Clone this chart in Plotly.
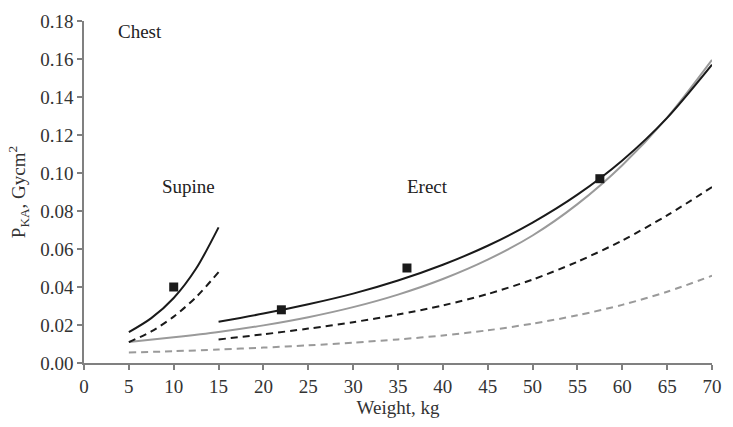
import plotly.graph_objects as go

# Supine (5-15 kg)
sup_x = [5, 7.5, 10, 12.5, 15]
sup_black_solid = [0.0162, 0.0236, 0.0342, 0.0497, 0.0714]
sup_black_dash = [0.0110, 0.0166, 0.0244, 0.0347, 0.0478]

# Erect (15-70 kg)
ere_x = [15, 20, 25, 30, 35, 40, 45, 50, 55, 60, 65, 70]
ere_black_solid = [0.0217, 0.0260, 0.0309, 0.0365, 0.0434, 0.0517, 0.0617, 0.0739, 0.0886, 0.1066, 0.1290, 0.1570]
ere_black_dash = [0.0124, 0.0151, 0.0181, 0.0215, 0.0255, 0.0303, 0.0363, 0.0439, 0.0533, 0.0645, 0.0777, 0.0926]

# Gray curves (5-70 kg)
all_x = [5, 10, 15, 20, 25, 30, 35, 40, 45, 50, 55, 60, 65, 70]
gray_solid = [0.0110, 0.0135, 0.0163, 0.0198, 0.0241, 0.0294, 0.0360, 0.0442, 0.0544, 0.0671, 0.0836, 0.1041, 0.1291, 0.1595]
gray_dash = [0.0055, 0.0062, 0.0071, 0.0081, 0.0093, 0.0107, 0.0124, 0.0145, 0.0172, 0.0207, 0.0251, 0.0306, 0.0375, 0.0459]

# Measured points
pt_x = [10, 22, 36, 57.5]
pt_y = [0.040, 0.028, 0.050, 0.097]

x_ticks = list(range(0, 75, 5))
y_ticks = [0, 0.02, 0.04, 0.06, 0.08, 0.10, 0.12, 0.14, 0.16, 0.18]
y_tick_labels = ["0.00", "0.02", "0.04", "0.06", "0.08", "0.10", "0.12", "0.14", "0.16", "0.18"]

BLACK = "#1a1a1a"
GRAY = "#9a9a9a"
font = "Liberation Serif, Times New Roman, serif"
FS = 19

fig = go.Figure()
def line(x, y, color, dash):
    fig.add_trace(go.Scatter(x=x, y=y, mode="lines",
                             line=dict(color=color, width=2, dash=dash, shape="spline", smoothing=0.8),
                             showlegend=False, hoverinfo="skip"))

line(all_x, gray_dash, GRAY, "7px,5px")
line(all_x, gray_solid, GRAY, "solid")
line(sup_x, sup_black_dash, BLACK, "7px,5px")
line(sup_x, sup_black_solid, BLACK, "solid")
line(ere_x, ere_black_dash, BLACK, "7px,5px")
line(ere_x, ere_black_solid, BLACK, "solid")

fig.add_trace(go.Scatter(x=pt_x, y=pt_y, mode="markers",
                         marker=dict(symbol="square", size=9, color=BLACK), showlegend=False))

for txt, ax, ay in [("Chest", 6.2, 0.1745), ("Supine", 11.6, 0.093), ("Erect", 38.3, 0.093)]:
    fig.add_annotation(x=ax, y=ay, text=txt, showarrow=False, font=dict(family=font, size=FS, color="#222"))

axis_common = dict(showgrid=False, zeroline=False, showline=True, linecolor="#808080", linewidth=1.5,
                   ticks="outside", ticklen=5, tickcolor="#808080", tickwidth=1.5,
                   tickfont=dict(family=font, size=FS, color="#333"))

fig.update_xaxes(range=[0, 70], tickvals=x_ticks,
                 title=dict(text="Weight, kg", font=dict(family=font, size=FS, color="#333"), standoff=5),
                 **axis_common)
fig.update_yaxes(range=[0, 0.18], tickvals=y_ticks, ticktext=y_tick_labels,
                 title=dict(text="P<sub>KA</sub>, Gycm<sup>2</sup>", font=dict(family=font, size=FS, color="#333"), standoff=10),
                 **axis_common)

fig.update_layout(width=733, height=427, margin=dict(l=84, r=11, t=15, b=64),
                  plot_bgcolor="white", paper_bgcolor="white")

fig.write_html("out.html")
